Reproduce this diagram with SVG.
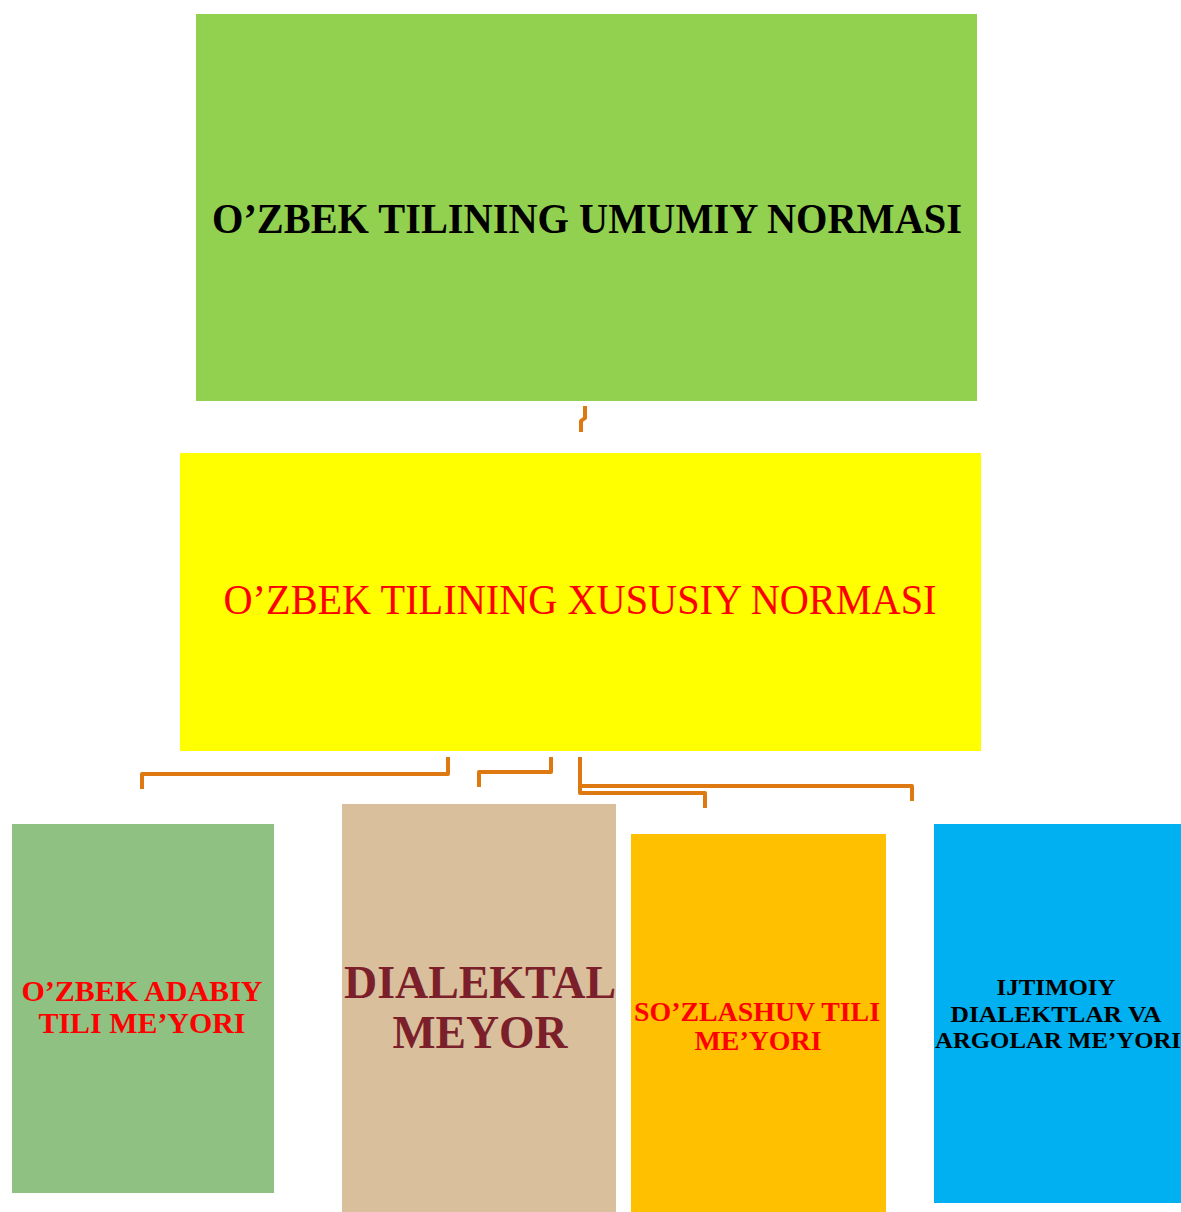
<svg xmlns="http://www.w3.org/2000/svg" width="1181" height="1212" viewBox="0 0 1181 1212">
<style>
.t{font-family:"Liberation Serif","Times New Roman",serif;text-anchor:middle}
.b{font-weight:bold}
.c{fill:none;stroke:#DE7810;stroke-width:4;stroke-linejoin:round}
</style>
<rect width="1181" height="1212" fill="#fff"/>
<g id="connectors">
<path class="c" d="M585,406 V418 L581,421 V432"/>
<path class="c" d="M448,757 V774 H142 V789"/>
<path class="c" d="M551,757 V772 H479 V787"/>
<path class="c" d="M580,757 V793 H705 V808"/>
<path class="c" d="M580,786 H912 V801"/>
</g>
<g id="n1">
<rect x="196" y="14" width="781" height="387" fill="#92D050"/>
<text class="t b" x="587" y="233" font-size="42" textLength="750" lengthAdjust="spacingAndGlyphs" fill="#000">O’ZBEK TILINING UMUMIY NORMASI</text>
</g>
<g id="n2">
<rect x="180" y="453" width="801" height="298" fill="#FFFF00"/>
<text class="t" x="580" y="614" font-size="42" textLength="713" lengthAdjust="spacingAndGlyphs" fill="#FF0000">O’ZBEK TILINING XUSUSIY NORMASI</text>
</g>
<g id="n3">
<rect x="12" y="824" width="262" height="369" fill="#8EC182"/>
<text class="t b" x="142" y="1001" font-size="30" textLength="241" lengthAdjust="spacingAndGlyphs" fill="#FF0000">O’ZBEK ADABIY</text>
<text class="t b" x="142" y="1033" font-size="30" textLength="207" lengthAdjust="spacingAndGlyphs" fill="#FF0000">TILI ME’YORI</text>
</g>
<g id="n4">
<rect x="342" y="804" width="274" height="408" fill="#D9BF9C"/>
<text class="t b" x="480" y="998" font-size="46" textLength="272" lengthAdjust="spacingAndGlyphs" fill="#7B1F2B">DIALEKTAL</text>
<text class="t b" x="480" y="1048" font-size="46" textLength="175" lengthAdjust="spacingAndGlyphs" fill="#7B1F2B">MEYOR</text>
</g>
<g id="n5">
<rect x="631" y="834" width="255" height="378" fill="#FFC000"/>
<text class="t b" x="757" y="1021" font-size="28" textLength="246" lengthAdjust="spacingAndGlyphs" fill="#FF0000">SO’ZLASHUV TILI</text>
<text class="t b" x="758" y="1050" font-size="28" textLength="127" lengthAdjust="spacingAndGlyphs" fill="#FF0000">ME’YORI</text>
</g>
<g id="n6">
<rect x="934" y="824" width="247" height="379" fill="#00B0F0"/>
<text class="t b" x="1056" y="995" font-size="24" textLength="119" lengthAdjust="spacingAndGlyphs" fill="#000">IJTIMOIY</text>
<text class="t b" x="1056" y="1022" font-size="24" textLength="211" lengthAdjust="spacingAndGlyphs" fill="#000">DIALEKTLAR VA</text>
<text class="t b" x="1058" y="1048" font-size="24" textLength="246" lengthAdjust="spacingAndGlyphs" fill="#000">ARGOLAR ME’YORI</text>
</g>
</svg>
